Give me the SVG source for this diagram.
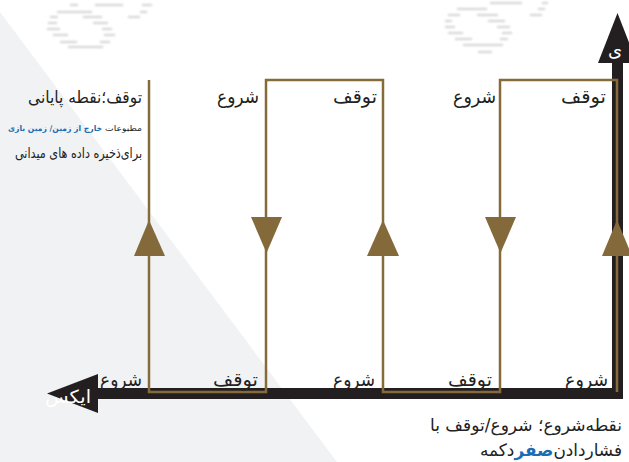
<svg xmlns="http://www.w3.org/2000/svg" width="629" height="462" viewBox="0 0 629 462">
<defs>
<style>
.t{font-family:"DejaVu Sans","Noto Sans",sans-serif;fill:#222;text-anchor:end}
.lb{font-size:19px}
.w{fill:#fff}
.b{fill:#1b6db3;font-weight:bold}
.brown{fill:none;stroke:#866b3a;stroke-width:2.5}
.ah{fill:#84693a}
.mk{stroke:#c4c4c4;stroke-width:1.6;fill:none}
</style>
<filter id="bl" x="-20%" y="-50%" width="140%" height="200%"><feGaussianBlur stdDeviation="1.3"/></filter>
</defs>
<rect width="629" height="462" fill="#fff"/>
<polygon points="0,12 337,462 0,462" fill="#f0f2f4"/>
<g id="watermarks" filter="url(#bl)" class="mk">
<path d="M70 5H78M95 5H123M142 5H152M57 12H92M140 12H147M50 17H58M83 17H102M128 17H140M48 23H57M93 23H108M47 29H60M102 29H112M53 35H68M104 35H115M60 42H77M100 42H110M68 47H103"/>
<path d="M490 3H522M542 3H548M457 9H487M538 9H545M448 15H460M477 15H498M530 15H542M445 21H452M488 21H505M445 27H455M497 27H510M448 33H463M502 33H512M455 39H472M500 39H508M463 45H503M478 52H492"/>
</g>
<g id="axes">
<path d="M97,393.5 H617.5 V62" fill="none" stroke="#231f20" stroke-width="11" stroke-linejoin="miter"/>
<polygon id="x-arrow" points="47,393.5 98,374 98,413" fill="#231f20"/>
<polygon id="y-arrow" points="617.5,13 598,63 637,63" fill="#231f20"/>
<text class="t w" x="91" y="403" font-size="18" textLength="46" lengthAdjust="spacingAndGlyphs">ایکس</text>
<text class="t w" x="622" y="56" font-size="18">ی</text>
</g>
<g id="connectors">
<path class="brown" d="M617,392 V80 H500 V392 H383 V80 H266 V392 H149 V80"/>
<polygon class="ah" points="149,220 134,256 165,256"/>
<polygon class="ah" points="251,217 282,217 266.5,253"/>
<polygon class="ah" points="383,220 367,256 399,256"/>
<polygon class="ah" points="485,217 516,217 500.5,253"/>
<polygon class="ah" points="617,220 602,256 632,256"/>
</g>
<g id="top-labels">
<text class="t lb" x="259" y="103" textLength="42" lengthAdjust="spacingAndGlyphs">شروع</text>
<text class="t lb" x="377" y="103" textLength="44" lengthAdjust="spacingAndGlyphs">توقف</text>
<text class="t lb" x="496" y="103" textLength="43" lengthAdjust="spacingAndGlyphs">شروع</text>
<text class="t lb" x="606" y="103" textLength="45" lengthAdjust="spacingAndGlyphs">توقف</text>
</g>
<g id="bottom-labels">
<text class="t lb" x="142" y="386" textLength="42" lengthAdjust="spacingAndGlyphs">شروع</text>
<text class="t lb" x="258" y="386" textLength="45" lengthAdjust="spacingAndGlyphs">توقف</text>
<text class="t lb" x="375" y="386" textLength="42" lengthAdjust="spacingAndGlyphs">شروع</text>
<text class="t lb" x="492" y="386" textLength="44" lengthAdjust="spacingAndGlyphs">توقف</text>
<text class="t lb" x="608" y="386" textLength="43" lengthAdjust="spacingAndGlyphs">شروع</text>
</g>
<g id="legend-end">
<text class="t" x="142" y="103" font-size="17" textLength="114" lengthAdjust="spacingAndGlyphs">توقف؛نقطه پایانی</text>
<text class="t" x="142" y="131" font-size="8" textLength="37" lengthAdjust="spacingAndGlyphs">مطبوعات</text>
<text class="t b" x="102" y="131" font-size="7.8" textLength="94" lengthAdjust="spacingAndGlyphs">خارج از زمین/ زمین بازی</text>
<text class="t" x="142" y="158" font-size="14" textLength="127" lengthAdjust="spacingAndGlyphs">برای&#x200C;ذخیره داده های میدانی</text>
</g>
<g id="legend-start">
<text class="t" x="622" y="431" font-size="17" textLength="192" lengthAdjust="spacingAndGlyphs">نقطه&#x200C;شروع؛ شروع/توقف با</text>
<text class="t" x="622" y="456" font-size="17" textLength="142" lengthAdjust="spacingAndGlyphs">فشاردادن&#x200C;<tspan class="b">صفر</tspan>دکمه</text>
</g>
</svg>
